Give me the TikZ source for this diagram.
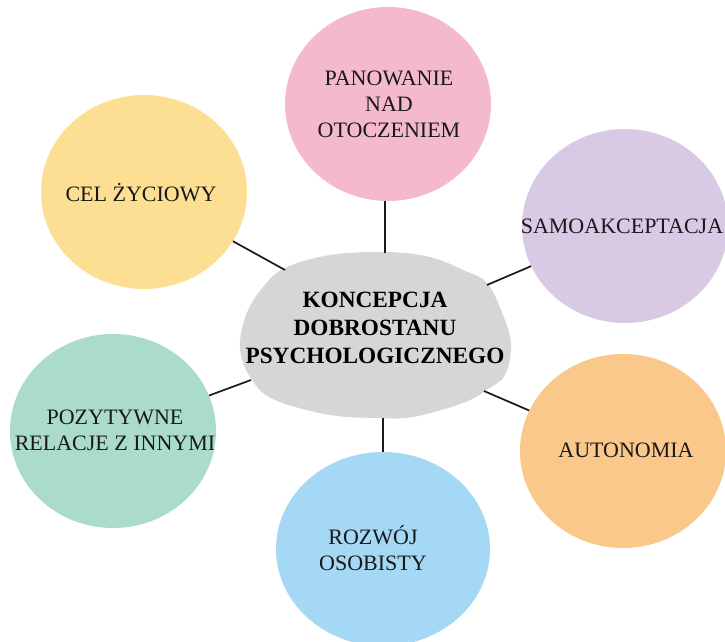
\documentclass[tikz,border=0pt]{standalone}
\usepackage{fontspec}
\setmainfont{Liberation Serif}
\usetikzlibrary{shapes.geometric}
\definecolor{cpink}{HTML}{F4B9CF}
\definecolor{cyellow}{HTML}{FCDF93}
\definecolor{clav}{HTML}{D8C9E4}
\definecolor{cmint}{HTML}{AADBCB}
\definecolor{corange}{HTML}{FAC88A}
\definecolor{cblue}{HTML}{A4D8F4}
\definecolor{cgray}{HTML}{D6D6D5}
\tikzset{
  bubble/.style={ellipse, minimum width=206pt, minimum height=194pt, inner sep=0pt, draw=none},
  lbl/.style={font=\fontsize{22}{26}\selectfont, align=center, text=black!90},
  conn/.style={draw=black!90, line width=1.7pt},
}
\begin{document}
\begin{tikzpicture}[x=1pt,y=-1pt]
\useasboundingbox (0,0) rectangle (725,642);
% bubbles
\node[bubble, fill=cpink]   (top)  at (388,104) {};
\node[bubble, fill=cyellow] (cel)  at (144,192) {};
\node[bubble, fill=clav]    (samo) at (625,226) {};
\node[bubble, fill=cmint]   (poz)  at (113,431) {};
\node[bubble, fill=corange] (auto) at (623,451) {};
\node[bubble, fill=cblue, minimum width=214pt] (roz) at (383,549) {};
% central blob
\fill[cgray] plot[smooth cycle, tension=0.6] coordinates {
  (263,287) (285,268) (330,255) (387,252) (430,257) (463,270) (487,283)
  (503,315) (511,345) (505,375) (488,389) (463,403) (413,417) (380,418)
  (330,415) (275,400) (252,380) (240,350) (246,315)};
\node[font=\bfseries\fontsize{23.3}{28}\selectfont, align=center] (core) at (375,328)
  {KONCEPCJA\\DOBROSTANU\\PSYCHOLOGICZNEGO};
% blob attachment points
\coordinate (btop) at (385,253);
\coordinate (bcel) at (285,270);
\coordinate (bsamo) at (487,285);
\coordinate (bpoz) at (251,380);
\coordinate (bauto) at (484,391);
\coordinate (broz) at (383,418);
% connectors
\draw[conn] (btop) -- (btop |- top.south);
\draw[conn] (bcel) -- (cel);
\draw[conn] (bsamo) -- (samo);
\draw[conn] (bpoz) -- (poz);
\draw[conn] (bauto) -- (auto);
\draw[conn] (broz) -- (broz |- roz.north);
% labels
\node[lbl] (ttop)  at (389,104) {PANOWANIE\\NAD\\OTOCZENIEM};
\node[lbl] (tcel)  at (141,193) {CEL ŻYCIOWY};
\node[lbl] (tsamo) at (622,226) {SAMOAKCEPTACJA};
\node[lbl] (tpoz)  at (115,430) {POZYTYWNE\\RELACJE Z INNYMI};
\node[lbl] (tauto) at (626,450) {AUTONOMIA};
\node[lbl] (troz)  at (373,548) {ROZWÓJ\\OSOBISTY};
\end{tikzpicture}
\end{document}
